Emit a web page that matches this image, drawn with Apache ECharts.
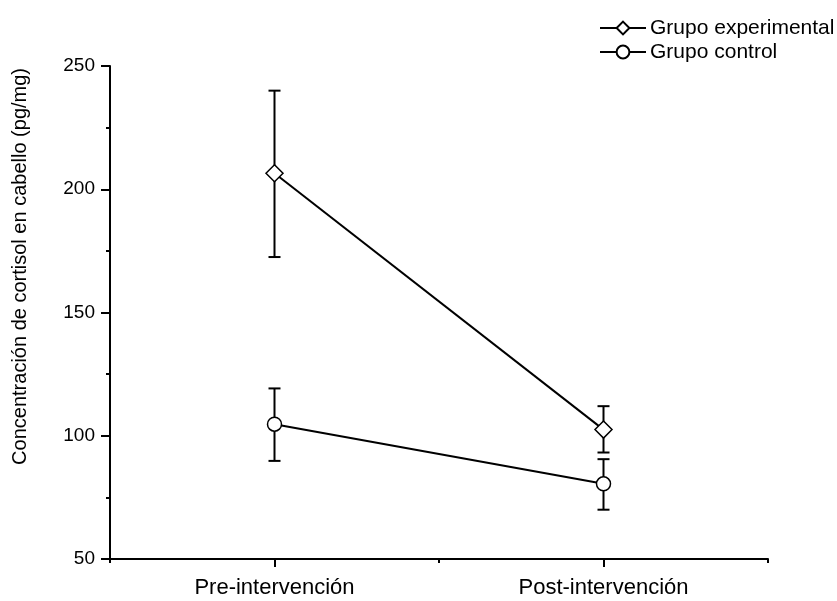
<!DOCTYPE html>
<html>
<head>
<meta charset="utf-8">
<script src="https://cdn.jsdelivr.net/npm/echarts@6/dist/echarts.min.js"></script>
<style>
  html, body { margin: 0; padding: 0; background: #fff; }
  #chart { width: 837px; height: 601px; }
</style>
</head>
<body>
<div id="chart"></div>
<script>
// Measurement occasions (x positions 1 and 2)
const categories = ['Pre-intervención', 'Post-intervención'];
const seriesNames = ['Grupo experimental', 'Grupo control'];
const yTitle = 'Concentración de cortisol en cabello (pg/mg)';

// Mean hair cortisol (pg/mg) per occasion, with error-bar limits
const expMean = [206.5, 102.5];
const expLow = [172.5, 93.2];
const expHigh = [240.0, 112.0];

const ctrlMean = [104.7, 80.5];
const ctrlLow = [89.8, 70.0];
const ctrlHigh = [119.2, 90.5];

const yTicks = [50, 100, 150, 200, 250];

const font = 'Arial, "Liberation Sans", sans-serif';

function pts(means) {
  return means.map((v, i) => [i + 1, v]);
}
function bars(low, high) {
  return low.map((l, i) => [i + 1, l, high[i]]);
}

function errorBarItem(params, api) {
  const x = api.value(0);
  const lo = api.coord([x, api.value(1)]);
  const hi = api.coord([x, api.value(2)]);
  const cap = 6;
  const style = { stroke: '#000', lineWidth: 2, fill: null };
  return {
    type: 'group',
    children: [
      { type: 'line', shape: { x1: lo[0], y1: lo[1], x2: hi[0], y2: hi[1] }, style },
      { type: 'line', shape: { x1: lo[0] - cap, y1: lo[1], x2: lo[0] + cap, y2: lo[1] }, style },
      { type: 'line', shape: { x1: hi[0] - cap, y1: hi[1], x2: hi[0] + cap, y2: hi[1] }, style }
    ]
  };
}

const chart = echarts.init(document.getElementById('chart'), null, { renderer: 'canvas' });

const axisLine = { show: true, lineStyle: { color: '#000', width: 2 } };

chart.setOption({
  animation: false,
  backgroundColor: '#fff',
  grid: { left: 110, right: 69, top: 66, bottom: 42, containLabel: false },
  legend: {
    orient: 'vertical',
    left: 599,
    top: 17,
    padding: 0,
    itemWidth: 46,
    itemHeight: 16,
    itemGap: 2,
    data: seriesNames,
    textStyle: { fontFamily: font, fontSize: 21, lineHeight: 22, color: '#000', padding: [0, 0, 0, -1] }
  },
  // rotated y-axis title
  graphic: [{
    type: 'text',
    left: 10,
    top: 68,
    rotation: Math.PI / 2,
    style: { text: yTitle, fontFamily: font, fontSize: 20, fill: '#000' }
  }],
  xAxis: [
    {
      // minor ticks at the half positions
      type: 'value', min: 0.5, max: 2.5, interval: 1,
      axisLine: axisLine,
      axisTick: { show: true, length: 4, inside: false, lineStyle: { color: '#000', width: 2 } },
      axisLabel: { show: false },
      splitLine: { show: false }
    },
    {
      type: 'value', min: 0.5, max: 2.5, position: 'bottom',
      axisLine: { show: false },
      axisTick: { show: true, length: 8, customValues: [1, 2], lineStyle: { color: '#000', width: 2 } },
      axisLabel: {
        show: true, customValues: [1, 2], margin: 18,
        fontFamily: font, fontSize: 22, color: '#000',
        formatter: v => categories[Math.round(v) - 1] || ''
      },
      splitLine: { show: false }
    }
  ],
  yAxis: {
    type: 'value', min: yTicks[0], max: yTicks[yTicks.length - 1], interval: 50,
    axisLine: axisLine,
    axisTick: { show: true, length: 9, lineStyle: { color: '#000', width: 2 } },
    minorTick: { show: true, splitNumber: 2, length: 4, lineStyle: { color: '#000', width: 2 } },
    axisLabel: { fontFamily: font, fontSize: 19, color: '#000', margin: 15 },
    splitLine: { show: false },
    minorSplitLine: { show: false }
  },
  series: [
    {
      name: 'eb-exp', type: 'custom', xAxisIndex: 0, z: 1,
      renderItem: errorBarItem, data: bars(expLow, expHigh), silent: true
    },
    {
      name: 'eb-ctrl', type: 'custom', xAxisIndex: 0, z: 1,
      renderItem: errorBarItem, data: bars(ctrlLow, ctrlHigh), silent: true
    },
    {
      name: seriesNames[0], type: 'line', xAxisIndex: 0, z: 3,
      data: pts(expMean),
      symbol: 'diamond', symbolSize: [17, 17],
      lineStyle: { color: '#000', width: 2 },
      itemStyle: { color: '#fff', borderColor: '#000', borderWidth: 1.5 }
    },
    {
      name: seriesNames[1], type: 'line', xAxisIndex: 0, z: 3,
      data: pts(ctrlMean),
      symbol: 'circle', symbolSize: 14,
      lineStyle: { color: '#000', width: 2 },
      itemStyle: { color: '#fff', borderColor: '#000', borderWidth: 1.5 }
    }
  ]
});
</script>
</body>
</html>
